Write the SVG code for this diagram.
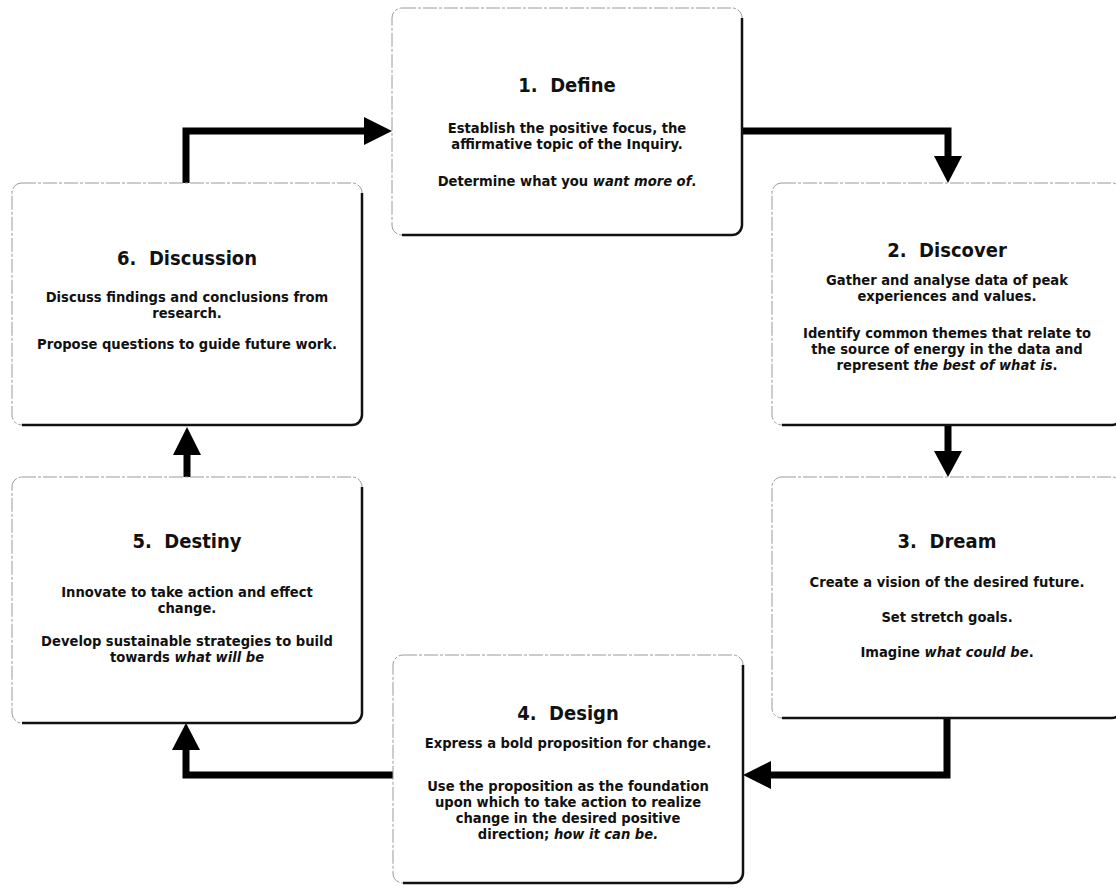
<svg xmlns="http://www.w3.org/2000/svg" width="1116" height="892" viewBox="0 0 1116 892">
<style>
.box{fill:#fff;stroke:#9a9a9a;stroke-width:1;stroke-dasharray:14 2 3 2}
.edge{fill:none;stroke:#111;stroke-width:2.5}
.t{font-family:'DejaVu Sans Condensed','DejaVu Sans',sans-serif;font-stretch:condensed;font-weight:bold;fill:#111;text-anchor:middle}
.h{font-size:20px}
.b{font-size:14.6px}
.i{font-style:italic}
.wire{fill:none;stroke:#000;stroke-width:7;stroke-linejoin:miter}
.head{fill:#000}
</style>
<rect width="1116" height="892" fill="#fff"/>
<g id="connectors">
  <path class="wire" d="M186,184 V131 H368"/>
  <polygon class="head" points="364,117 392,131 364,145"/>
  <path class="wire" d="M742,131 H948 V158"/>
  <polygon class="head" points="934,156 962,156 948,183"/>
  <path class="wire" d="M948,425 V454"/>
  <polygon class="head" points="934,451 962,451 948,477"/>
  <path class="wire" d="M947,718 V775 H768"/>
  <polygon class="head" points="771,761 743,775 771,789"/>
  <path class="wire" d="M393,775 H186 V747"/>
  <polygon class="head" points="172,750 200,750 186,723"/>
  <path class="wire" d="M187,477 V452"/>
  <polygon class="head" points="173,455 201,455 187,427"/>
</g>
<g id="node1">
  <rect class="box" x="392" y="8" width="350" height="227" rx="10"/>
  <path class="edge" d="M742,18 V225 A10,10 0 0 1 732,235 H402"/>
  <text class="t h" x="567" y="92">1.&#160; Define</text>
  <text class="t b" x="567" y="133">Establish the positive focus, the</text>
  <text class="t b" x="567" y="149">affirmative topic of the Inquiry.</text>
  <text class="t b" x="567" y="186">Determine what you <tspan class="i">want more of</tspan>.</text>
</g>
<g id="node2">
  <rect class="box" x="772" y="183" width="350" height="242" rx="10"/>
  <path class="edge" d="M1122,193 V415 A10,10 0 0 1 1112,425 H782"/>
  <text class="t h" x="947" y="257">2.&#160; Discover</text>
  <text class="t b" x="947" y="285">Gather and analyse data of peak</text>
  <text class="t b" x="947" y="301">experiences and values.</text>
  <text class="t b" x="947" y="338">Identify common themes that relate to</text>
  <text class="t b" x="947" y="354">the source of energy in the data and</text>
  <text class="t b" x="947" y="370">represent <tspan class="i">the best of what is</tspan>.</text>
</g>
<g id="node3">
  <rect class="box" x="772" y="477" width="350" height="241" rx="10"/>
  <path class="edge" d="M1122,487 V708 A10,10 0 0 1 1112,718 H782"/>
  <text class="t h" x="947" y="548">3.&#160; Dream</text>
  <text class="t b" x="947" y="587">Create a vision of the desired future.</text>
  <text class="t b" x="947" y="622">Set stretch goals.</text>
  <text class="t b" x="947" y="657">Imagine <tspan class="i">what could be</tspan>.</text>
</g>
<g id="node4">
  <rect class="box" x="393" y="655" width="350" height="228" rx="10"/>
  <path class="edge" d="M743,665 V873 A10,10 0 0 1 733,883 H403"/>
  <text class="t h" x="568" y="720">4.&#160; Design</text>
  <text class="t b" x="568" y="748">Express a bold proposition for change.</text>
  <text class="t b" x="568" y="791">Use the proposition as the foundation</text>
  <text class="t b" x="568" y="807">upon which to take action to realize</text>
  <text class="t b" x="568" y="823">change in the desired positive</text>
  <text class="t b" x="568" y="839">direction; <tspan class="i">how it can be.</tspan></text>
</g>
<g id="node5">
  <rect class="box" x="12" y="477" width="350" height="246" rx="10"/>
  <path class="edge" d="M362,487 V713 A10,10 0 0 1 352,723 H22"/>
  <text class="t h" x="187" y="548">5.&#160; Destiny</text>
  <text class="t b" x="187" y="597">Innovate to take action and effect</text>
  <text class="t b" x="187" y="613">change.</text>
  <text class="t b" x="187" y="646">Develop sustainable strategies to build</text>
  <text class="t b" x="187" y="662">towards <tspan class="i">what will be</tspan></text>
</g>
<g id="node6">
  <rect class="box" x="12" y="183" width="350" height="242" rx="10"/>
  <path class="edge" d="M362,193 V415 A10,10 0 0 1 352,425 H22"/>
  <text class="t h" x="187" y="265">6.&#160; Discussion</text>
  <text class="t b" x="187" y="302">Discuss findings and conclusions from</text>
  <text class="t b" x="187" y="318">research.</text>
  <text class="t b" x="187" y="349">Propose questions to guide future work.</text>
</g>
</svg>
